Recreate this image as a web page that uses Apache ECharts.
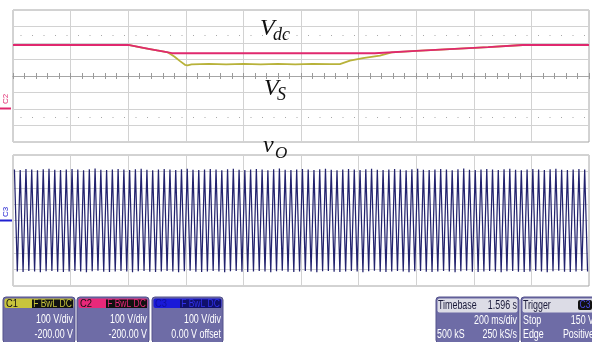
<!DOCTYPE html>
<html><head><meta charset="utf-8">
<script src="https://cdn.jsdelivr.net/npm/echarts@6/dist/echarts.min.js"></script>
<style>html,body{margin:0;padding:0;background:#fff}#c{width:592px;height:342px}</style>
</head><body><div id="c"></div>
<script>
// ---- data (time in ms, values in V) ----
const vdcTime = [0, 400, 440, 480, 520, 552, 1256, 1400, 1517, 1650, 1770, 2000];
const vdcVal  = [388, 388, 375, 362, 349, 338, 338, 352, 363, 375, 388, 388];
const vsTime = [0, 400, 451, 500, 538, 560, 580, 597, 606, 620, 680, 740, 800, 860, 920, 980, 1040, 1100, 1135, 1170, 1215, 1274, 1315, 1400, 1517, 1650, 1770, 2000];
const vsVal  = [388, 388, 371, 355, 343, 318, 290, 268, 264, 271, 273, 270, 274, 271, 273, 270, 274, 272, 272, 293, 308, 324, 343, 352, 363, 375, 388, 388];
const voPeriodMs = 20;
const voPeaks = [312,309,314,311,307,313,316,310,308,312,315,311,306,313,317,310,309,312,314,311,
                 308,313,316,310,307,312,315,311,309,313,316,310,308,312,314,311,307,313,316,310,
                 309,312,315,311,306,313,317,310,308,312,314,311,308,313,316,310,307,312,315,311,
                 309,313,316,310,308,312,314,311,307,313,316,310,309,312,315,311,306,313,317,310,
                 308,312,314,311,308,313,316,310,307,312,315,311,309,313,316,310,308,312,314,311];
const voTroughs = [-311,-314,-309,-312,-316,-310,-308,-313,-315,-311,-309,-312,-316,-310,-307,-313,-315,-311,-309,-312,
                   -316,-310,-308,-313,-315,-311,-309,-312,-316,-310,-307,-313,-315,-311,-309,-312,-316,-310,-308,-313,
                   -315,-311,-309,-312,-316,-310,-307,-313,-315,-311,-309,-312,-316,-310,-308,-313,-315,-311,-309,-312,
                   -316,-310,-307,-313,-315,-311,-309,-312,-316,-310,-308,-313,-315,-311,-309,-312,-316,-310,-307,-313,
                   -315,-311,-309,-312,-316,-310,-308,-313,-315,-311,-309,-312,-316,-310,-307,-313,-315,-311,-309,-312];
const dottedRows = [-50, 450];

// ---- build series data ----
const vdcData = vdcTime.map((t, i) => [t, vdcVal[i]]);
const vsData = vsTime.map((t, i) => [t, vsVal[i]]);
const voData = [];
for (let i = 0; i < voPeaks.length; i++) {
  voData.push([i * voPeriodMs + voPeriodMs / 4, voPeaks[i]]);
  voData.push([i * voPeriodMs + 3 * voPeriodMs / 4, voTroughs[i]]);
}

const GRID_C = '#d2d2d2', BORDER_C = '#a6a6a6';
const chart = echarts.init(document.getElementById('c'), null, {renderer: 'canvas'});
const hiddenAx = {axisLabel:{show:false}, axisTick:{show:false}, axisLine:{show:false}};
const SANS = '"Liberation Sans", Arial, sans-serif';
const SX = 0.74;

function txt(x, y, s, fill, size, align, sx) {
  return {type:'text', x:x, y:y, scaleX:(sx || SX), z:100,
          style:{text:s, fill:fill, font:size + 'px ' + SANS, textAlign:align || 'left', textVerticalAlign:'middle'}};
}
function infoBox(x, w, headFill, headH, headItems, body) {
  const els = [];
  els.push({type:'rect', z:100, shape:{x:x, y:297, width:w, height:46, r:3}, style:{fill:'#6e6ca6', stroke:'#55538c', lineWidth:1}});
  els.push({type:'rect', z:100, shape:{x:x+1.5, y:298.5, width:w-3, height:headH, r:2}, style:{fill:headFill}});
  headItems.forEach(h => els.push(h));
  body.forEach(b => els.push(txt(b[0], b[1], b[2], '#ffffff', 12, b[3])));
  return els;
}
function chanHead(x, w, name, boxFill, txtFill, nameFill) {
  return [
    txt(x+3, 303.5, name, nameFill, 11, 'left', 0.85),
    {type:'rect', z:100, shape:{x:x+w-43, y:299.5, width:41, height:8.5}, style:{fill:boxFill}},
    txt(x+w-22.5, 303.8, 'F BwL DC', txtFill, 10, 'center', 0.85)
  ];
}
const mathFont = (s) => 'italic ' + s + 'px "Liberation Serif", "DejaVu Serif", serif';

const graphics = [].concat(
  // trace labels
  [{type:'text', z:100, x:260, y:17, style:{text:'V', fill:'#111', font:mathFont(24)}},
   {type:'text', z:100, x:273, y:26, style:{text:'dc', fill:'#111', font:mathFont(18)}},
   {type:'text', z:100, x:264, y:77, style:{text:'V', fill:'#111', font:mathFont(24)}},
   {type:'text', z:100, x:277, y:86, style:{text:'S', fill:'#111', font:mathFont(18)}},
   {type:'text', z:100, x:263, y:134, style:{text:'v', fill:'#111', font:mathFont(24)}},
   {type:'text', z:100, x:275, y:145, style:{text:'O', fill:'#111', font:mathFont(17)}},
   // channel markers
   {type:'text', z:100, x:2, y:104, rotation:Math.PI/2, style:{text:'C2', fill:'#e0286e', font:'8px ' + SANS}},
   {type:'rect', z:100, shape:{x:0, y:107.5, width:11, height:2}, style:{fill:'#e0286e'}},
   {type:'text', z:100, x:2, y:217, rotation:Math.PI/2, style:{text:'C3', fill:'#2020d0', font:'8px ' + SANS}},
   {type:'rect', z:100, shape:{x:0, y:219.5, width:12, height:2}, style:{fill:'#2020d0'}}],
  infoBox(3, 72, '#c8c43c', 9.5, chanHead(3, 72, 'C1', '#111', '#c8c43c', '#111'),
          [[73, 320, '100 V/div', 'right'], [73, 334.5, '-200.00 V', 'right']]),
  infoBox(77, 72, '#e8287a', 9.5, chanHead(77, 72, 'C2', '#111', '#e8287a', '#111'),
          [[147, 320, '100 V/div', 'right'], [147, 334.5, '-200.00 V', 'right']]),
  infoBox(152, 71, '#1a1ad8', 9.5, chanHead(152, 71, 'C3', '#10106a', '#3030e8', '#1010a0'),
          [[221, 320, '100 V/div', 'right'], [221, 334.5, '0.00 V offset', 'right']]),
  infoBox(436, 83, '#dcdce6', 14, [
      txt(438, 305.5, 'Timebase', '#1a1a3a', 12, 'left'),
      txt(517, 305.5, '1.596 s', '#1a1a3a', 12, 'right')],
          [[517, 321, '200 ms/div', 'right'], [437, 335, '500 kS', 'left'], [517, 335, '250 kS/s', 'right']]),
  infoBox(521, 76, '#dcdce6', 14, [
      txt(523, 305.5, 'Trigger', '#1a1a3a', 12, 'left'),
      {type:'rect', z:100, shape:{x:578, y:300, width:14, height:10, r:2}, style:{fill:'#111'}},
      txt(585, 305.3, 'C3', '#4a4ae0', 10, 'center', 0.85)],
          [[594, 321, '150 V', 'right'], [523, 321, 'Stop', 'left'], [523, 335, 'Edge', 'left'], [594, 335, 'Positive', 'right']])
);

const option = {
  animation: false,
  backgroundColor: '#ffffff',
  grid: [
    {left:13, top:10, width:576, height:132, show:true, borderColor:BORDER_C, borderWidth:1, backgroundColor:'#fff'},
    {left:13, top:155, width:576, height:131, show:true, borderColor:BORDER_C, borderWidth:1, backgroundColor:'#fff'},
    {left:13, top:10, width:576, height:132},
    {left:13, top:10, width:576, height:132}
  ],
  xAxis: [
    Object.assign({gridIndex:0, type:'value', min:0, max:2000, interval:200, splitLine:{show:true, lineStyle:{color:GRID_C, width:1}}}, hiddenAx),
    Object.assign({gridIndex:1, type:'value', min:0, max:2000, interval:200, splitLine:{show:true, lineStyle:{color:GRID_C, width:1}}}, hiddenAx),
    {gridIndex:2, type:'value', min:0, max:2000, interval:40, axisLabel:{show:false}, splitLine:{show:false},
     axisLine:{show:true, onZero:true, lineStyle:{color:BORDER_C}}, axisTick:{show:true, inside:true, length:3, lineStyle:{color:'#9a9a9a'}}},
    {gridIndex:3, type:'value', min:0, max:2000, interval:40, axisLabel:{show:false}, splitLine:{show:false},
     axisLine:{show:true, onZero:true, lineStyle:{color:BORDER_C}}, axisTick:{show:true, inside:false, length:3, lineStyle:{color:'#9a9a9a'}}}
  ],
  yAxis: [
    Object.assign({gridIndex:0, type:'value', min:-200, max:600, interval:100, splitLine:{show:true, lineStyle:{color:GRID_C, width:1}}}, hiddenAx),
    Object.assign({gridIndex:1, type:'value', min:-400, max:400, interval:100, splitLine:{show:true, lineStyle:{color:GRID_C, width:1}}}, hiddenAx),
    Object.assign({gridIndex:2, type:'value', min:-1, max:1, splitLine:{show:false}}, hiddenAx),
    Object.assign({gridIndex:3, type:'value', min:-1, max:1, splitLine:{show:false}}, hiddenAx)
  ],
  series: [
    {type:'line', name:'Vs', xAxisIndex:0, yAxisIndex:0, data:vsData, symbol:'none', z:3,
     lineStyle:{color:'#b8b23a', width:1.8}, itemStyle:{color:'#b8b23a'},
     markLine:{silent:true, symbol:'none', label:{show:false}, z:1,
       lineStyle:{color:'#a8a8a8', width:1, type:[1, 10.5], dashOffset:4},
       data: dottedRows.map(v => ({yAxis:v}))}},
    {type:'line', name:'Vdc', xAxisIndex:0, yAxisIndex:0, data:vdcData, symbol:'none', z:4,
     lineStyle:{color:'#e0286e', width:1.8}, itemStyle:{color:'#e0286e'}},
    {type:'line', name:'vo', xAxisIndex:1, yAxisIndex:1, data:voData, symbol:'none', z:3,
     lineStyle:{color:'#23236e', width:1.25}, itemStyle:{color:'#23236e'}}
  ],
  graphic: graphics
};
chart.setOption(option);
</script></body></html>
